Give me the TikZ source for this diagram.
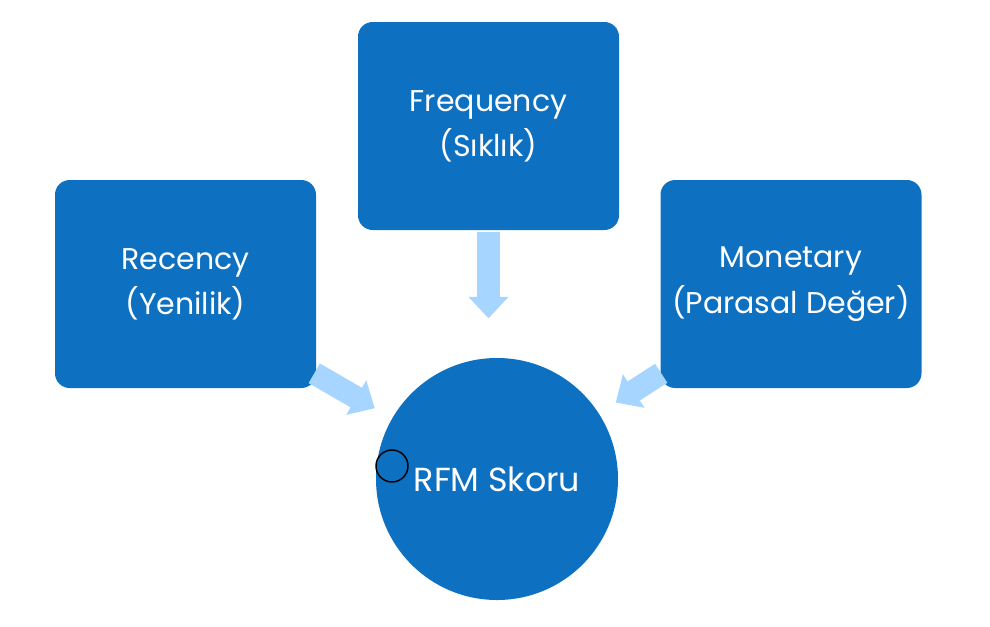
\documentclass[tikz,border=0pt]{standalone}
\usepackage{fontspec}
\setmainfont{Poppins}
\usetikzlibrary{arrows.meta,calc}
\definecolor{boxblue}{RGB}{14,112,192}
\definecolor{arrowblue}{RGB}{166,214,255}
\begin{document}
\begin{tikzpicture}[x=0.75pt,y=-0.75pt,
  card/.style={fill=boxblue, rounded corners=11pt, minimum width=195.75pt, minimum height=156pt,
    inner sep=0pt, text=white, align=center, font=\fontsize{22.5}{34}\selectfont},
  hub/.style={circle, fill=boxblue, minimum size=181.5pt, inner sep=0pt, text=white,
    font=\fontsize{25}{30}\selectfont},
  flow/.style={draw=arrowblue, line width=17pt, -{Triangle[width=29pt,length=16pt]}},
  pointer/.style={circle, draw=black, line width=1.1pt, minimum size=24pt, inner sep=0pt}]
\useasboundingbox (0,0) rectangle (990,626);
\node[card] (rec) at (185.5,284) {Recency\\(Yenilik)};
\node[card] (fre) at (488.5,126) {Frequency\\(Sıklık)};
\node[card] (mon) at (791,284) {Monetary\\(Parasal Değer)};
\node[hub] (rfm) at (497,479) {RFM Skoru};
\node[pointer] (cur) at (392,466) {};
\coordinate (ls) at ($(rec.south east)+(-2,-15)$);
\coordinate (rs) at ($(mon.south west)+(1,-15)$);
\coordinate (ds) at ($(fre.south)+(0,2)$);
\coordinate (dt) at ($(fre.south)+(0,88)$);
\draw[flow, shorten >=15pt] (ls) -- (rfm);
\draw[flow, shorten >=15pt] (rs) -- (rfm);
\draw[flow] (ds) -- (dt);
\end{tikzpicture}
\end{document}
